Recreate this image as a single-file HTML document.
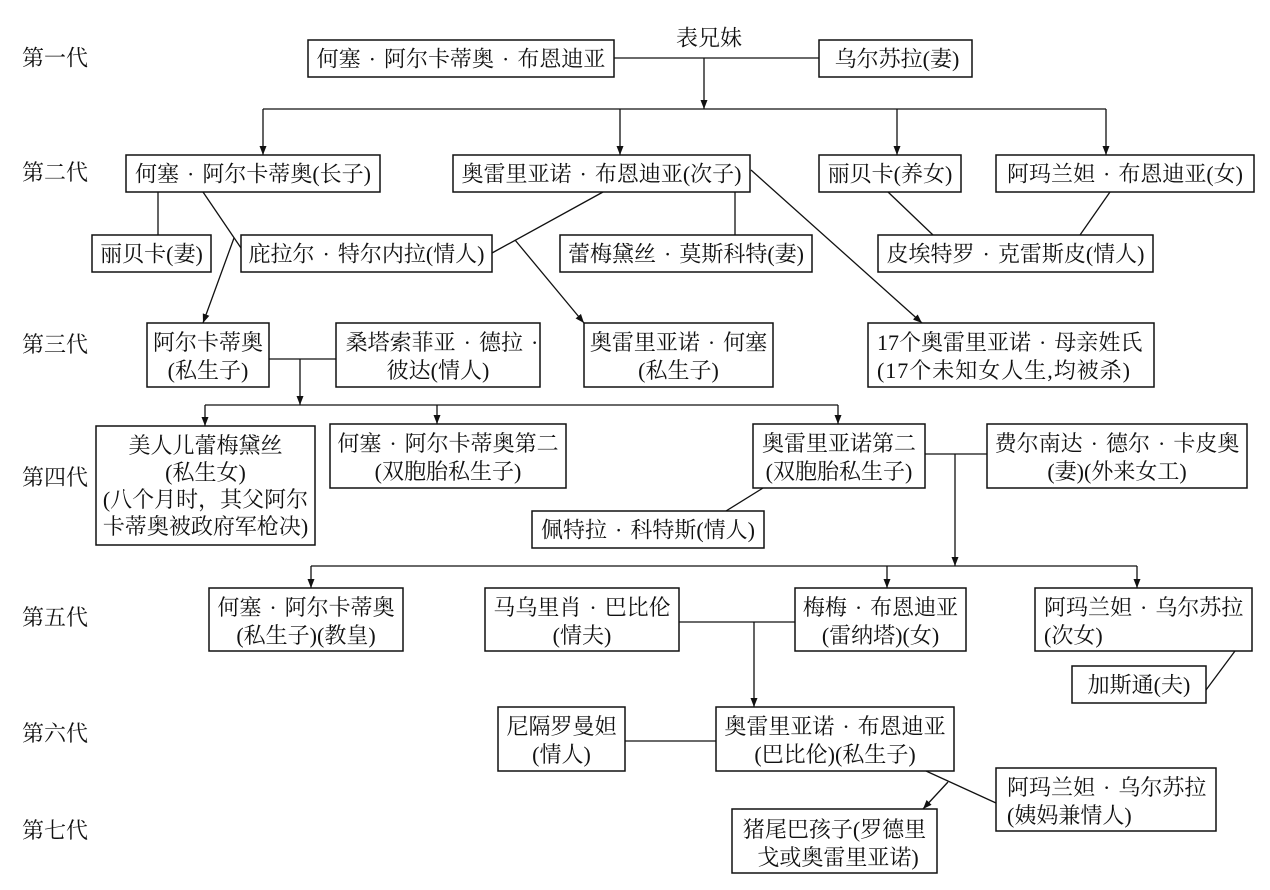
<!DOCTYPE html>
<html>
<head>
<meta charset="utf-8">
<style>
html,body{margin:0;padding:0;background:#fff;}
svg{display:block;}
.t{font-family:"Liberation Serif","Noto Serif CJK SC",serif;font-size:22px;fill:#111;}
.m{text-anchor:middle;}
rect{fill:#fff;stroke:#111;stroke-width:1.5;}
.l{stroke:#111;stroke-width:1.3;fill:none;}
.ar{stroke:#111;stroke-width:1.3;fill:none;marker-end:url(#a);}
</style>
</head>
<body>
<svg width="1270" height="890" viewBox="0 0 1270 890" xmlns="http://www.w3.org/2000/svg">
<defs>
<marker id="a" markerWidth="10" markerHeight="8" refX="9" refY="4" orient="auto" markerUnits="userSpaceOnUse">
<path d="M0,0.5 L9,4 L0,7.5 z" fill="#111"/>
</marker>
</defs>

<!-- generation labels -->
<text class="t" x="22" y="65.5">第一代</text>
<text class="t" x="22" y="180">第二代</text>
<text class="t" x="22" y="352">第三代</text>
<text class="t" x="22" y="485">第四代</text>
<text class="t" x="22" y="625">第五代</text>
<text class="t" x="22" y="741">第六代</text>
<text class="t" x="22" y="838">第七代</text>

<!-- connectors -->
<line class="l" x1="614" y1="58" x2="819" y2="58"/>
<line class="ar" x1="704" y1="58" x2="704" y2="109"/>
<line class="l" x1="263" y1="109" x2="1106" y2="109"/>
<line class="ar" x1="263" y1="109" x2="263" y2="155"/>
<line class="ar" x1="620" y1="109" x2="620" y2="155"/>
<line class="ar" x1="897" y1="109" x2="897" y2="155"/>
<line class="ar" x1="1106" y1="109" x2="1106" y2="155"/>

<line class="l" x1="158" y1="192" x2="158" y2="235"/>
<line class="l" x1="203" y1="192" x2="241" y2="248"/>
<line class="ar" x1="234" y1="238" x2="203" y2="323"/>
<line class="l" x1="603" y1="192" x2="492" y2="253"/>
<line class="ar" x1="515" y1="240" x2="584" y2="323"/>
<line class="l" x1="735" y1="192" x2="735" y2="235"/>
<line class="ar" x1="751" y1="170" x2="922" y2="323"/>
<line class="l" x1="888" y1="192" x2="933" y2="235"/>
<line class="l" x1="1110" y1="192" x2="1080" y2="235"/>

<line class="l" x1="269" y1="359" x2="336" y2="359"/>
<line class="ar" x1="300" y1="359" x2="300" y2="405"/>
<line class="l" x1="205" y1="405" x2="838" y2="405"/>
<line class="ar" x1="205" y1="405" x2="205" y2="426"/>
<line class="ar" x1="437" y1="405" x2="437" y2="424"/>
<line class="ar" x1="838" y1="405" x2="838" y2="424"/>

<line class="l" x1="925" y1="454" x2="987" y2="454"/>
<line class="ar" x1="955" y1="454" x2="955" y2="566"/>
<line class="l" x1="763" y1="488" x2="726" y2="511"/>

<line class="l" x1="311" y1="566" x2="1137" y2="566"/>
<line class="ar" x1="311" y1="566" x2="311" y2="588"/>
<line class="ar" x1="887" y1="566" x2="887" y2="588"/>
<line class="ar" x1="1137" y1="566" x2="1137" y2="588"/>

<line class="l" x1="679" y1="622" x2="795" y2="622"/>
<line class="ar" x1="754" y1="622" x2="754" y2="707"/>
<line class="l" x1="1235" y1="651" x2="1206" y2="690"/>

<line class="l" x1="625" y1="741" x2="716" y2="741"/>
<line class="l" x1="926" y1="771" x2="996" y2="803"/>
<line class="ar" x1="948" y1="782" x2="923" y2="809"/>

<!-- 表兄妹 -->
<text class="t" x="676" y="45.5">表兄妹</text>

<!-- Gen 1 -->
<rect x="308" y="40" width="306" height="37"/>
<text class="t m" x="461" y="66.5">何塞<tspan dx="8">·</tspan><tspan dx="8">阿尔卡蒂奥</tspan><tspan dx="8">·</tspan><tspan dx="8">布恩迪亚</tspan></text>
<rect x="819" y="40" width="153" height="37"/>
<text class="t m" x="897" y="66.5">乌尔苏拉(妻)</text>

<!-- Gen 2 -->
<rect x="126" y="155" width="254" height="37"/>
<text class="t m" x="253" y="181.5">何塞<tspan dx="8">·</tspan><tspan dx="8">阿尔卡蒂奥(长子)</tspan></text>
<rect x="453" y="155" width="297" height="37"/>
<text class="t m" x="601.5" y="181.5">奥雷里亚诺<tspan dx="8">·</tspan><tspan dx="8">布恩迪亚(次子)</tspan></text>
<rect x="819" y="155" width="142" height="37"/>
<text class="t m" x="890" y="181.5">丽贝卡(养女)</text>
<rect x="996" y="155" width="258" height="37"/>
<text class="t m" x="1125" y="181.5">阿玛兰妲<tspan dx="8">·</tspan><tspan dx="8">布恩迪亚(女)</tspan></text>

<rect x="92" y="235" width="119" height="37"/>
<text class="t m" x="151.5" y="261.5">丽贝卡(妻)</text>
<rect x="241" y="235" width="251" height="37"/>
<text class="t m" x="366.5" y="261.5">庇拉尔<tspan dx="8">·</tspan><tspan dx="8">特尔内拉(情人)</tspan></text>
<rect x="560" y="235" width="252" height="37"/>
<text class="t m" x="686" y="261.5">蕾梅黛丝<tspan dx="8">·</tspan><tspan dx="8">莫斯科特(妻)</tspan></text>
<rect x="878" y="235" width="275" height="37"/>
<text class="t m" x="1015.5" y="261.5">皮埃特罗<tspan dx="8">·</tspan><tspan dx="8">克雷斯皮(情人)</tspan></text>

<!-- Gen 3 -->
<rect x="147" y="323" width="122" height="64"/>
<text class="t m" x="208" y="350">阿尔卡蒂奥</text>
<text class="t m" x="208" y="378">(私生子)</text>
<rect x="336" y="323" width="204" height="64"/>
<text class="t m" x="442" y="350">桑塔索菲亚<tspan dx="8">·</tspan><tspan dx="8">德拉</tspan><tspan dx="8">·</tspan></text>
<text class="t m" x="438" y="378">彼达(情人)</text>
<rect x="584" y="323" width="189" height="64"/>
<text class="t m" x="678.5" y="350">奥雷里亚诺<tspan dx="8">·</tspan><tspan dx="8">何塞</tspan></text>
<text class="t m" x="678.5" y="378">(私生子)</text>
<rect x="868" y="323" width="286" height="64"/>
<text class="t" x="877" y="350">17个奥雷里亚诺<tspan dx="8">·</tspan><tspan dx="8">母亲姓氏</tspan></text>
<text class="t" x="877" y="378" textLength="253" lengthAdjust="spacing">(17个未知女人生,均被杀)</text>

<!-- Gen 4 -->
<rect x="96" y="426" width="219" height="119"/>
<text class="t m" x="205.5" y="453">美人儿蕾梅黛丝</text>
<text class="t m" x="205.5" y="480">(私生女)</text>
<text class="t m" x="205.5" y="507">(八个月时，其父阿尔</text>
<text class="t m" x="205.5" y="534">卡蒂奥被政府军枪决)</text>
<rect x="330" y="424" width="236" height="64"/>
<text class="t m" x="448" y="451">何塞<tspan dx="8">·</tspan><tspan dx="8">阿尔卡蒂奥第二</tspan></text>
<text class="t m" x="448" y="479">(双胞胎私生子)</text>
<rect x="753" y="424" width="172" height="64"/>
<text class="t m" x="839" y="451">奥雷里亚诺第二</text>
<text class="t m" x="839" y="479">(双胞胎私生子)</text>
<rect x="987" y="424" width="260" height="64"/>
<text class="t m" x="1117" y="451">费尔南达<tspan dx="8">·</tspan><tspan dx="8">德尔</tspan><tspan dx="8">·</tspan><tspan dx="8">卡皮奥</tspan></text>
<text class="t m" x="1117" y="479">(妻)(外来女工)</text>
<rect x="532" y="511" width="232" height="37"/>
<text class="t m" x="648" y="537.5">佩特拉<tspan dx="8">·</tspan><tspan dx="8">科特斯(情人)</tspan></text>

<!-- Gen 5 -->
<rect x="209" y="588" width="194" height="63"/>
<text class="t m" x="306" y="615">何塞<tspan dx="8">·</tspan><tspan dx="8">阿尔卡蒂奥</tspan></text>
<text class="t m" x="306" y="643">(私生子)(教皇)</text>
<rect x="485" y="588" width="194" height="63"/>
<text class="t m" x="582" y="615">马乌里肖<tspan dx="8">·</tspan><tspan dx="8">巴比伦</tspan></text>
<text class="t m" x="582" y="643">(情夫)</text>
<rect x="795" y="588" width="171" height="63"/>
<text class="t m" x="880.5" y="615">梅梅<tspan dx="8">·</tspan><tspan dx="8">布恩迪亚</tspan></text>
<text class="t m" x="880.5" y="643">(雷纳塔)(女)</text>
<rect x="1035" y="588" width="217" height="63"/>
<text class="t" x="1044" y="615">阿玛兰妲<tspan dx="8">·</tspan><tspan dx="8">乌尔苏拉</tspan></text>
<text class="t" x="1044" y="643">(次女)</text>
<rect x="1072" y="666" width="134" height="37"/>
<text class="t m" x="1139" y="692.5">加斯通(夫)</text>

<!-- Gen 6 -->
<rect x="498" y="707" width="127" height="64"/>
<text class="t m" x="561.5" y="734">尼隔罗曼妲</text>
<text class="t m" x="561.5" y="762">(情人)</text>
<rect x="716" y="707" width="238" height="64"/>
<text class="t m" x="835" y="734">奥雷里亚诺<tspan dx="8">·</tspan><tspan dx="8">布恩迪亚</tspan></text>
<text class="t m" x="835" y="762">(巴比伦)(私生子)</text>
<rect x="996" y="768" width="220" height="63"/>
<text class="t" x="1007" y="795">阿玛兰妲<tspan dx="8">·</tspan><tspan dx="8">乌尔苏拉</tspan></text>
<text class="t" x="1007" y="823">(姨妈兼情人)</text>

<!-- Gen 7 -->
<rect x="732" y="809" width="205" height="64"/>
<text class="t m" x="834.5" y="837">猪尾巴孩子(罗德里</text>
<text class="t m" x="838" y="865">戈或奥雷里亚诺)</text>
</svg>
</body>
</html>
